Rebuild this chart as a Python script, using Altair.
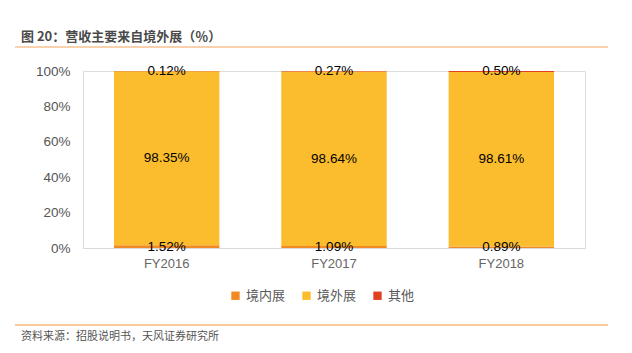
import altair as alt
import pandas as pd

years = ["FY2016", "FY2017", "FY2018"]
series = ["境内展", "境外展", "其他"]
domestic = [1.52, 1.09, 0.89]
overseas = [98.35, 98.64, 98.61]
other = [0.12, 0.27, 0.50]
colors = ["#F28A23", "#FBBD2D", "#E0421F"]

rows = []
for i, y in enumerate(years):
    for k, (s, vals) in enumerate(zip(series, [domestic, overseas, other])):
        rows.append({"year": y, "series": s, "value": vals[i], "order": k,
                     "label": f"{vals[i]:.2f}%"})
df = pd.DataFrame(rows)

W, H = 502, 177

xscale = alt.Scale(paddingInner=0.37, paddingOuter=0.185)
xaxis = alt.Axis(labelAngle=0, labelFont="Liberation Sans", labelFontSize=13,
                 labelColor="#666666", domainColor="#D9D9D9", ticks=False,
                 labelPadding=9)
yscale = alt.Scale(domain=[0, 1])
yaxis = alt.Axis(format=".0%", values=[0, 0.2, 0.4, 0.6, 0.8, 1.0],
                 grid=False, domain=False, ticks=False, labelPadding=13,
                 labelOverlap=False, labelFont="Liberation Sans",
                 labelFontSize=13.5, labelColor="#555555")

bars = alt.Chart(df).mark_bar().encode(
    x=alt.X("year:N", sort=years, title=None, scale=xscale, axis=xaxis),
    y=alt.Y("value:Q", stack="normalize", title=None, scale=yscale, axis=yaxis),
    color=alt.Color("series:N", sort=series,
                    scale=alt.Scale(domain=series, range=colors),
                    legend=alt.Legend(title=None, orient="none", direction="horizontal",
                                      legendX=146, legendY=218, symbolType="square",
                                      symbolSize=70, labelFont="Noto Sans CJK SC",
                                      labelFontSize=13, labelColor="#595959",
                                      columnPadding=14, symbolOffset=0)),
    order=alt.Order("order:Q"),
)

labels = alt.Chart(df).transform_stack(
    stack="value", groupby=["year"], as_=["v0", "v1"], sort=[alt.SortField("order")],
    offset="normalize"
).transform_calculate(mid="(datum.v0 + datum.v1) / 2").mark_text(
    font="Liberation Sans", fontSize=13.5, color="#000000", baseline="middle"
).encode(
    x=alt.X("year:N", sort=years, title=None, scale=xscale, axis=xaxis),
    y=alt.Y("mid:Q", title=None, scale=yscale, axis=yaxis),
    text="label:N",
)

ann = pd.DataFrame({"t": ["图 20：营收主要来自境外展（％）"]})
title = alt.Chart(ann).mark_text(align="left", baseline="middle", font="Noto Sans CJK SC",
                                 fontSize=13, fontWeight="bold", color="#4a4a4a").encode(
    x=alt.value(-62), y=alt.value(-34), text="t:N")

src = pd.DataFrame({"t": ["资料来源：招股说明书，天风证券研究所"]})
source = alt.Chart(src).mark_text(align="left", baseline="middle", font="Noto Sans CJK SC",
                                  fontSize=11, color="#555555").encode(
    x=alt.value(-62), y=alt.value(266), text="t:N")

line1 = alt.Chart(ann).mark_rule(color="#F4A35A", strokeWidth=1).encode(
    x=alt.value(-68), x2=alt.value(525), y=alt.value(-24))
line2 = alt.Chart(ann).mark_rule(color="#F9B978", strokeWidth=1.5).encode(
    x=alt.value(-68), x2=alt.value(525), y=alt.value(254))

chart = alt.layer(bars, labels, title, source, line1, line2).properties(
    width=W, height=H,
    autosize=alt.AutoSizeParams(type="none"),
    padding={"left": 83, "top": 71, "right": 47, "bottom": 105},
).configure_view(stroke=None).configure(background="white").configure_axis(labelOverlap=False)

chart.save("out.html", embed_options={"renderer": "svg", "actions": False})
